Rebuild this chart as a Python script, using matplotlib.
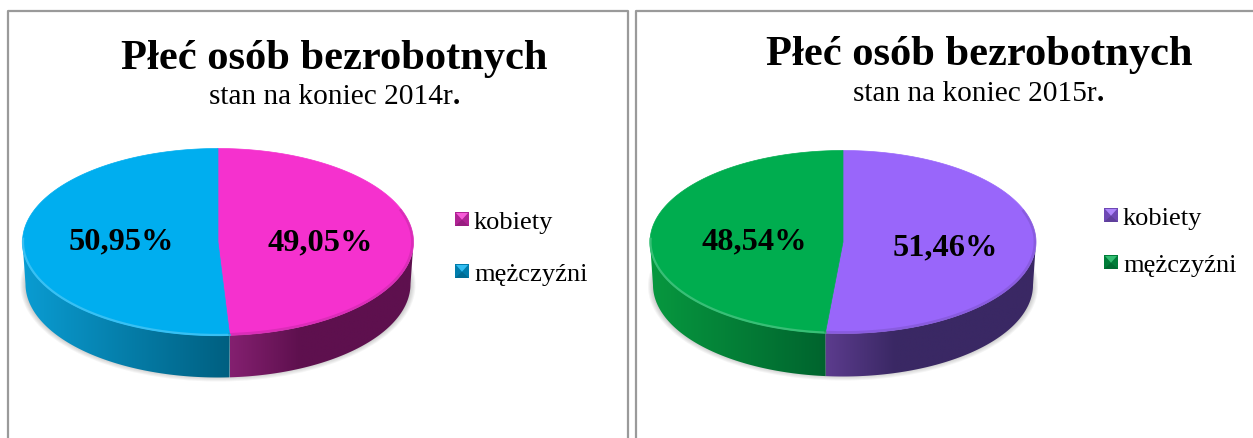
import numpy as np
import matplotlib
matplotlib.use('Agg')
import matplotlib.pyplot as plt
from matplotlib.colors import to_rgb
from matplotlib.patches import Ellipse, Polygon, Rectangle

# Dane
title = 'Płeć osób bezrobotnych'
years = ['2014', '2015']
categories = ['kobiety', 'mężczyźni']
values_2014 = [49.05, 50.95]
values_2015 = [51.46, 48.54]

face_colors_2014 = ['#F531CE', '#00AEEF']
face_colors_2015 = ['#9966FA', '#00AD4F']
# kolory boku: (od lewej, do prawej) dla prawego i lewego wycinka
wall_colors_2014 = [('#842070', '#5E104E'), ('#0A9CD2', '#005F80')]
wall_colors_2015 = [('#5C3C8E', '#3A2864'), ('#07983F', '#00642E')]

plt.rcParams['font.family'] = ['Liberation Serif', 'DejaVu Serif']

fig = plt.figure(figsize=(12.53, 4.39), dpi=100)
ax = fig.add_axes([0, 0, 1, 1])
ax.set_xlim(0, 1253)
ax.set_ylim(439, 0)
ax.axis('off')


def arc(cx, cy, rx, ry, t0, t1, n=200):
    t = np.radians(np.linspace(t0, t1, n))
    return cx + rx * np.sin(t), cy - ry * np.cos(t)


def draw_pie(cx, cy, rx, ry, depth, values, face_colors, wall_colors):
    split = values[0] / sum(values) * 360
    x_split = cx + rx * np.sin(np.radians(split))

    # cien
    for i in range(6):
        ax.add_patch(Ellipse((cx, cy + depth + 1), 2 * rx + 4 - i * 2, 2 * ry + 6 - i * 2,
                             fc='#555555', ec='none', alpha=0.06, zorder=1))

    # bok - dolny luk troche wezszy
    for k, (t0, t1) in enumerate([(90, split), (split, 270)]):
        x, y = arc(cx, cy, rx, ry, t0, t1)
        xb, yb = arc(cx, cy + depth, rx - 3, ry, t0, t1)
        pts = np.r_[np.c_[x, y], np.c_[xb[::-1], yb[::-1]]]
        clip = Polygon(pts, closed=True, fc='none', ec='none', transform=ax.transData)
        ax.add_patch(clip)
        xs = np.linspace(x.min(), x.max(), 256)
        c_left, c_right = map(np.array, map(to_rgb, wall_colors[k]))
        if k == 0:
            w = np.clip((xs - x_split) / 70, 0, 1)
        else:
            w = (xs - xs.min()) / (x_split - xs.min())
        img = (c_left + (c_right - c_left) * w[:, None])[None, :, :]
        im = ax.imshow(img, extent=(xs.min(), xs.max(), cy + ry + depth + 1, cy - 2),
                       aspect='auto', interpolation='bilinear', zorder=2)
        im.set_clip_path(clip)

    # wierzch
    for k, (t0, t1) in enumerate([(0, split), (split, 360)]):
        x, y = arc(cx, cy, rx, ry, t0, t1, 300)
        ax.add_patch(Polygon(np.r_[[[cx, cy]], np.c_[x, y]], closed=True, fc=face_colors[k],
                             ec=face_colors[k], lw=0.5, zorder=3))

    # jasna/ciemna krawedz (bevel)
    base = np.array(to_rgb(face_colors[1]))
    rim = base + (1 - base) * 0.22
    x, y = arc(cx, cy, rx - 0.5, ry - 0.5, split, 272)
    ax.plot(x, y, color=rim, lw=1.6, zorder=4)
    x, y = arc(cx, cy, rx - 1, ry - 1, 70, split)
    ax.plot(x, y, color='black', alpha=0.1, lw=2, zorder=4)


def draw_key(x0, y0, color, size=14):
    base = np.array(to_rgb(color))
    light = base + (1 - base) * 0.2
    side = base * 0.72
    bottom = base * 0.62
    c = (x0 + size / 2, y0 + size * 0.55)
    x1, y1 = x0 + size, y0 + size
    ax.add_patch(Rectangle((x0, y0), size, size, fc=side, ec='none', zorder=5))
    ax.add_patch(Polygon([(x0, y1), (x1, y1), c], fc=bottom, ec='none', zorder=6))
    ax.add_patch(Polygon([(x0 + 1, y0 + 1), (x1 - 1, y0 + 1), c], fc=light, ec='none', zorder=6))


def fmt(v):
    return f'{v:.2f}'.replace('.', ',') + '%'


def draw_headers(x_title, y_title, x_sub, y_sub, year):
    ax.text(x_title, y_title, title, fontsize=30.6, fontweight='bold', ha='left', va='baseline')
    sub = ax.text(x_sub, y_sub, f'stan na koniec {year}r', fontsize=21.2, ha='left', va='baseline')
    ax.annotate('.', xy=(1, 0), xycoords=sub, fontsize=21.2, fontweight='bold', ha='left', va='bottom')


# Ramki
for x0, x1 in [(7.5, 627.5), (636, 1260)]:
    ax.plot([x0, x0, x1, x1], [445, 12, 12, 445], color='#9A9A9A', lw=1.6, zorder=0)

# 2014
draw_headers(121, 69.5, 209, 104.5, years[0])
draw_pie(218, 243, 195.5, 93.5, 42, values_2014, face_colors_2014, wall_colors_2014)
for pos, v in zip([(268, 250), (69, 249)], values_2014):
    ax.text(pos[0], pos[1], fmt(v), fontsize=23.3, fontweight='bold', ha='left', va='baseline', zorder=7)
for y, name, col in zip([213, 265], categories, face_colors_2014):
    draw_key(455, y, col)
    ax.text(474, y + 16, name, fontsize=19, ha='left', va='baseline', zorder=7)

# 2015
draw_headers(766, 65, 853, 101, years[1])
draw_pie(843, 243, 193, 91.5, 43, values_2015, face_colors_2015, wall_colors_2015)
for pos, v in zip([(893, 255), (702, 249)], values_2015):
    ax.text(pos[0], pos[1], fmt(v), fontsize=23.3, fontweight='bold', ha='left', va='baseline', zorder=7)
for y, name, col in zip([209, 256], categories, face_colors_2015):
    draw_key(1104, y, col)
    ax.text(1123, y + 16, name, fontsize=19, ha='left', va='baseline', zorder=7)

ax.set_xlim(0, 1253)
ax.set_ylim(439, 0)
fig.savefig('out.png', dpi=100)
